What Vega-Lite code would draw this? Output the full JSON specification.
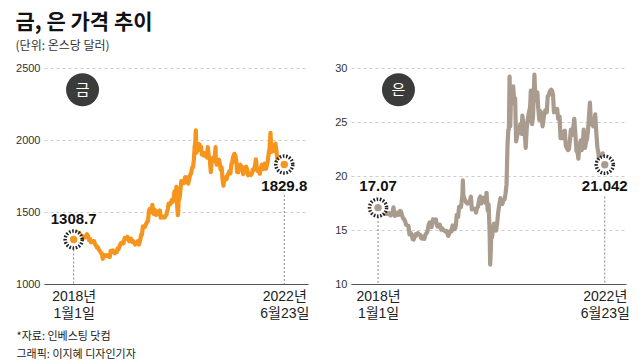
{
  "$schema": "https://vega.github.io/schema/vega-lite/v6.json",
  "padding": {"left": 15, "top": 12, "right": 0, "bottom": 0},
  "background": "white",
  "title": {
    "text": "금, 은 가격 추이",
    "subtitle": "(단위: 온스당 달러)",
    "anchor": "start",
    "font": "Noto Sans CJK KR",
    "fontSize": 21,
    "fontWeight": "bold",
    "color": "#111111",
    "subtitleFont": "Noto Sans CJK KR",
    "subtitleFontSize": 12,
    "subtitleColor": "#333333",
    "subtitlePadding": 8,
    "offset": 10
  },
  "spacing": 25,
  "config": {
    "view": {"stroke": null},
    "font": "Liberation Sans",
    "axisY": {"domain": false, "ticks": false, "labelPadding": 4, "labelFontSize": 11, "labelColor": "#333333", "gridColor": "#cccccc", "gridDash": [3, 3], "labelFont": "Liberation Sans", "format": "d"},
    "axisX": {"grid": false, "ticks": false, "domainColor": "#555555", "labelFontSize": 14, "labelColor": "#222222", "labelLineHeight": 17, "labelPadding": 5, "labelFont": "Liberation Sans Narrow, Liberation Sans, Noto Sans CJK KR", "labelOverlap": false, "labelFlush": false}
  },
  "datasets": {
    "prices": [
      {"d":"2018-01-01","g":1308.7,"s":17.07},
      {"d":"2018-01-08","g":1322,"s":17.18},
      {"d":"2018-01-15","g":1338,"s":17.05},
      {"d":"2018-01-22","g":1332,"s":17.22},
      {"d":"2018-01-25","g":1358,"s":17.5},
      {"d":"2018-02-01","g":1344,"s":17.24},
      {"d":"2018-02-08","g":1316,"s":16.53},
      {"d":"2018-02-15","g":1354,"s":16.73},
      {"d":"2018-02-22","g":1328,"s":16.53},
      {"d":"2018-03-01","g":1318,"s":16.48},
      {"d":"2018-03-08","g":1322,"s":16.53},
      {"d":"2018-03-15","g":1317,"s":16.47},
      {"d":"2018-03-22","g":1330,"s":16.55},
      {"d":"2018-04-01","g":1325,"s":16.35},
      {"d":"2018-04-08","g":1333,"s":16.48},
      {"d":"2018-04-15","g":1346,"s":16.63},
      {"d":"2018-04-22","g":1334,"s":17.10},
      {"d":"2018-05-01","g":1305,"s":16.30},
      {"d":"2018-05-08","g":1313,"s":16.54},
      {"d":"2018-05-15","g":1290,"s":16.40},
      {"d":"2018-05-22","g":1292,"s":16.60},
      {"d":"2018-06-01","g":1298,"s":16.42},
      {"d":"2018-06-08","g":1298,"s":16.77},
      {"d":"2018-06-15","g":1278,"s":16.73},
      {"d":"2018-06-22","g":1270,"s":16.40},
      {"d":"2018-07-01","g":1252,"s":16.05},
      {"d":"2018-07-08","g":1255,"s":16.02},
      {"d":"2018-07-15","g":1240,"s":15.80},
      {"d":"2018-07-22","g":1231,"s":15.50},
      {"d":"2018-08-01","g":1216,"s":15.40},
      {"d":"2018-08-08","g":1212,"s":15.38},
      {"d":"2018-08-15","g":1175,"s":14.60},
      {"d":"2018-08-22","g":1194,"s":14.75},
      {"d":"2018-09-01","g":1201,"s":14.55},
      {"d":"2018-09-08","g":1196,"s":14.15},
      {"d":"2018-09-15","g":1201,"s":14.12},
      {"d":"2018-09-22","g":1199,"s":14.38},
      {"d":"2018-10-01","g":1190,"s":14.62},
      {"d":"2018-10-08","g":1188,"s":14.52},
      {"d":"2018-10-15","g":1230,"s":14.70},
      {"d":"2018-10-22","g":1222,"s":14.60},
      {"d":"2018-11-01","g":1233,"s":14.55},
      {"d":"2018-11-08","g":1224,"s":14.25},
      {"d":"2018-11-15","g":1213,"s":14.20},
      {"d":"2018-11-22","g":1227,"s":14.37},
      {"d":"2018-12-01","g":1222,"s":14.18},
      {"d":"2018-12-08","g":1248,"s":14.55},
      {"d":"2018-12-15","g":1241,"s":14.70},
      {"d":"2018-12-22","g":1258,"s":14.80},
      {"d":"2019-01-01","g":1282,"s":15.50},
      {"d":"2019-01-08","g":1286,"s":15.71},
      {"d":"2019-01-15","g":1290,"s":15.62},
      {"d":"2019-01-22","g":1282,"s":15.26},
      {"d":"2019-02-01","g":1320,"s":16.00},
      {"d":"2019-02-08","g":1313,"s":15.78},
      {"d":"2019-02-15","g":1318,"s":15.80},
      {"d":"2019-02-22","g":1328,"s":15.98},
      {"d":"2019-03-01","g":1313,"s":15.44},
      {"d":"2019-03-08","g":1297,"s":15.30},
      {"d":"2019-03-15","g":1302,"s":15.30},
      {"d":"2019-03-22","g":1315,"s":15.50},
      {"d":"2019-04-01","g":1291,"s":15.03},
      {"d":"2019-04-08","g":1298,"s":15.17},
      {"d":"2019-04-15","g":1290,"s":15.00},
      {"d":"2019-04-22","g":1274,"s":14.97},
      {"d":"2019-05-01","g":1282,"s":14.85},
      {"d":"2019-05-08","g":1283,"s":14.92},
      {"d":"2019-05-15","g":1297,"s":14.70},
      {"d":"2019-05-22","g":1274,"s":14.45},
      {"d":"2019-06-01","g":1304,"s":14.76},
      {"d":"2019-06-08","g":1340,"s":14.95},
      {"d":"2019-06-15","g":1342,"s":14.88},
      {"d":"2019-06-22","g":1400,"s":15.42},
      {"d":"2019-07-01","g":1392,"s":15.25},
      {"d":"2019-07-08","g":1398,"s":15.08},
      {"d":"2019-07-15","g":1414,"s":15.35},
      {"d":"2019-07-22","g":1425,"s":16.40},
      {"d":"2019-08-01","g":1440,"s":16.20},
      {"d":"2019-08-08","g":1505,"s":17.15},
      {"d":"2019-08-15","g":1522,"s":17.10},
      {"d":"2019-08-22","g":1498,"s":17.12},
      {"d":"2019-09-01","g":1527,"s":18.30},
      {"d":"2019-09-04","g":1550,"s":19.60},
      {"d":"2019-09-08","g":1507,"s":18.20},
      {"d":"2019-09-15","g":1488,"s":17.90},
      {"d":"2019-09-22","g":1515,"s":17.75},
      {"d":"2019-10-01","g":1480,"s":17.50},
      {"d":"2019-10-08","g":1505,"s":17.45},
      {"d":"2019-10-15","g":1483,"s":17.55},
      {"d":"2019-10-22","g":1492,"s":17.50},
      {"d":"2019-11-01","g":1510,"s":18.10},
      {"d":"2019-11-08","g":1460,"s":16.90},
      {"d":"2019-11-15","g":1470,"s":16.95},
      {"d":"2019-11-22","g":1462,"s":16.95},
      {"d":"2019-12-01","g":1462,"s":16.95},
      {"d":"2019-12-08","g":1462,"s":16.62},
      {"d":"2019-12-15","g":1475,"s":17.05},
      {"d":"2019-12-22","g":1480,"s":17.15},
      {"d":"2020-01-01","g":1520,"s":17.90},
      {"d":"2020-01-08","g":1558,"s":18.10},
      {"d":"2020-01-15","g":1552,"s":17.45},
      {"d":"2020-01-22","g":1557,"s":17.95},
      {"d":"2020-02-01","g":1582,"s":17.97},
      {"d":"2020-02-08","g":1570,"s":17.72},
      {"d":"2020-02-15","g":1584,"s":17.50},
      {"d":"2020-02-22","g":1643,"s":18.45},
      {"d":"2020-03-01","g":1590,"s":16.82},
      {"d":"2020-03-08","g":1674,"s":17.38},
      {"d":"2020-03-12","g":1577,"s":15.90},
      {"d":"2020-03-15","g":1530,"s":14.80},
      {"d":"2020-03-19","g":1478,"s":11.80},
      {"d":"2020-03-22","g":1498,"s":12.60},
      {"d":"2020-03-27","g":1625,"s":14.50},
      {"d":"2020-04-01","g":1591,"s":14.30},
      {"d":"2020-04-08","g":1645,"s":15.10},
      {"d":"2020-04-15","g":1714,"s":15.60},
      {"d":"2020-04-22","g":1713,"s":15.30},
      {"d":"2020-05-01","g":1700,"s":14.95},
      {"d":"2020-05-08","g":1702,"s":15.55},
      {"d":"2020-05-15","g":1742,"s":16.55},
      {"d":"2020-05-22","g":1735,"s":17.20},
      {"d":"2020-06-01","g":1740,"s":17.95},
      {"d":"2020-06-08","g":1697,"s":17.58},
      {"d":"2020-06-15","g":1727,"s":17.40},
      {"d":"2020-06-22","g":1755,"s":17.78},
      {"d":"2020-07-01","g":1770,"s":17.82},
      {"d":"2020-07-08","g":1809,"s":18.40},
      {"d":"2020-07-15","g":1810,"s":19.20},
      {"d":"2020-07-22","g":1866,"s":22.85},
      {"d":"2020-07-28","g":1958,"s":24.30},
      {"d":"2020-08-01","g":1975,"s":24.30},
      {"d":"2020-08-06","g":2067,"s":29.20},
      {"d":"2020-08-11","g":1912,"s":24.60},
      {"d":"2020-08-15","g":1944,"s":26.75},
      {"d":"2020-08-19","g":1930,"s":27.20},
      {"d":"2020-08-22","g":1940,"s":26.70},
      {"d":"2020-08-28","g":1965,"s":27.50},
      {"d":"2020-09-01","g":1970,"s":28.30},
      {"d":"2020-09-08","g":1930,"s":26.90},
      {"d":"2020-09-15","g":1955,"s":27.20},
      {"d":"2020-09-22","g":1900,"s":23.20},
      {"d":"2020-10-01","g":1905,"s":23.80},
      {"d":"2020-10-08","g":1892,"s":24.10},
      {"d":"2020-10-15","g":1908,"s":24.20},
      {"d":"2020-10-22","g":1904,"s":24.80},
      {"d":"2020-11-01","g":1878,"s":23.90},
      {"d":"2020-11-06","g":1951,"s":25.60},
      {"d":"2020-11-15","g":1887,"s":24.70},
      {"d":"2020-11-22","g":1870,"s":24.20},
      {"d":"2020-11-30","g":1777,"s":22.60},
      {"d":"2020-12-08","g":1870,"s":24.50},
      {"d":"2020-12-15","g":1855,"s":25.20},
      {"d":"2020-12-22","g":1874,"s":25.80},
      {"d":"2021-01-01","g":1895,"s":26.40},
      {"d":"2021-01-06","g":1950,"s":27.90},
      {"d":"2021-01-08","g":1849,"s":25.30},
      {"d":"2021-01-15","g":1829,"s":24.80},
      {"d":"2021-01-22","g":1856,"s":25.55},
      {"d":"2021-02-01","g":1863,"s":29.40},
      {"d":"2021-02-08","g":1834,"s":27.00},
      {"d":"2021-02-15","g":1794,"s":27.35},
      {"d":"2021-02-22","g":1809,"s":27.75},
      {"d":"2021-03-01","g":1728,"s":26.20},
      {"d":"2021-03-08","g":1683,"s":25.20},
      {"d":"2021-03-15","g":1731,"s":26.00},
      {"d":"2021-03-22","g":1738,"s":25.70},
      {"d":"2021-04-01","g":1728,"s":24.60},
      {"d":"2021-04-08","g":1755,"s":25.30},
      {"d":"2021-04-15","g":1764,"s":25.90},
      {"d":"2021-04-22","g":1782,"s":26.10},
      {"d":"2021-05-01","g":1768,"s":25.90},
      {"d":"2021-05-08","g":1831,"s":27.40},
      {"d":"2021-05-15","g":1844,"s":27.45},
      {"d":"2021-05-22","g":1881,"s":27.80},
      {"d":"2021-06-01","g":1904,"s":28.00},
      {"d":"2021-06-08","g":1893,"s":27.90},
      {"d":"2021-06-15","g":1858,"s":27.50},
      {"d":"2021-06-22","g":1778,"s":25.90},
      {"d":"2021-07-01","g":1776,"s":26.00},
      {"d":"2021-07-08","g":1802,"s":26.00},
      {"d":"2021-07-15","g":1829,"s":26.20},
      {"d":"2021-07-22","g":1806,"s":25.30},
      {"d":"2021-08-01","g":1814,"s":25.50},
      {"d":"2021-08-08","g":1763,"s":23.50},
      {"d":"2021-08-15","g":1780,"s":23.70},
      {"d":"2021-08-22","g":1805,"s":23.50},
      {"d":"2021-09-01","g":1814,"s":24.10},
      {"d":"2021-09-08","g":1794,"s":24.20},
      {"d":"2021-09-15","g":1755,"s":22.80},
      {"d":"2021-09-22","g":1768,"s":22.60},
      {"d":"2021-10-01","g":1761,"s":22.40},
      {"d":"2021-10-08","g":1757,"s":22.50},
      {"d":"2021-10-15","g":1768,"s":23.30},
      {"d":"2021-10-22","g":1796,"s":24.30},
      {"d":"2021-11-01","g":1793,"s":23.80},
      {"d":"2021-11-08","g":1825,"s":24.50},
      {"d":"2021-11-15","g":1866,"s":25.30},
      {"d":"2021-11-22","g":1806,"s":24.10},
      {"d":"2021-12-01","g":1782,"s":22.30},
      {"d":"2021-12-08","g":1783,"s":22.30},
      {"d":"2021-12-15","g":1765,"s":21.60},
      {"d":"2021-12-22","g":1803,"s":22.80},
      {"d":"2022-01-01","g":1829,"s":23.30},
      {"d":"2022-01-08","g":1797,"s":22.40},
      {"d":"2022-01-15","g":1817,"s":22.90},
      {"d":"2022-01-22","g":1835,"s":24.30},
      {"d":"2022-02-01","g":1800,"s":22.60},
      {"d":"2022-02-08","g":1827,"s":23.20},
      {"d":"2022-02-15","g":1854,"s":23.40},
      {"d":"2022-02-22","g":1907,"s":24.20},
      {"d":"2022-03-01","g":1944,"s":25.50},
      {"d":"2022-03-08","g":2050,"s":26.80},
      {"d":"2022-03-15","g":1918,"s":24.80},
      {"d":"2022-03-22","g":1921,"s":25.30},
      {"d":"2022-04-01","g":1925,"s":24.60},
      {"d":"2022-04-08","g":1945,"s":24.80},
      {"d":"2022-04-15","g":1975,"s":25.70},
      {"d":"2022-04-22","g":1932,"s":24.20},
      {"d":"2022-05-01","g":1863,"s":22.60},
      {"d":"2022-05-08","g":1883,"s":22.20},
      {"d":"2022-05-15","g":1810,"s":21.10},
      {"d":"2022-05-22","g":1847,"s":21.70},
      {"d":"2022-06-01","g":1847,"s":21.80},
      {"d":"2022-06-08","g":1852,"s":22.10},
      {"d":"2022-06-15","g":1833,"s":21.60},
      {"d":"2022-06-23","g":1829.8,"s":21.042}
    ],
    "gpts": [
      {"d":"2018-01-01","v":1308.7,"t":"1308.7","p":"start","top":1240},
      {"d":"2022-06-23","v":1829.8,"t":"1829.8","p":"end","top":1618}
    ],
    "spts": [
      {"d":"2018-01-01","v":17.07,"t":"17.07","p":"start","top":16.2},
      {"d":"2022-06-23","v":21.042,"t":"21.042","p":"end","top":18.1}
    ],
    "gbadge": [{"d":"2018-03-11","v":2349,"t":"금"}],
    "sbadge": [{"d":"2018-05-28","v":27.99,"t":"은"}]
  },
  "hconcat": [
    {
      "width": 264,
      "height": 216,
      "layer": [
        {
          "data": {"name": "gpts"},
          "mark": {"type": "rule", "color": "#888888", "strokeDash": [2, 2], "strokeWidth": 1},
          "encoding": {
            "x": {"field": "d", "type": "temporal"},
            "y": {"field": "top", "type": "quantitative", "scale": {"domain": [1000, 2500], "zero": false}},
            "y2": {"datum": 1000}
          }
        },
        {
          "data": {"name": "prices"},
          "mark": {"type": "line", "color": "#F7941D", "strokeWidth": 4.2, "strokeJoin": "round"},
          "encoding": {
            "x": {"field": "d", "type": "temporal",
              "scale": {"domain": [{"year": 2017, "month": 5, "date": 16, "utc": true}, {"year": 2022, "month": 12, "date": 24, "utc": true}]},
              "axis": {
                "values": [{"year": 2018, "month": 1, "date": 1, "utc": true}, {"year": 2022, "month": 6, "date": 23, "utc": true}],
                "labelExpr": "utcyear(datum.value) == 2018 ? ['2018년', '1월1일'] : ['2022년', '6월23일']",
                "title": ["*자료: 인베스팅 닷컴", "그래픽: 이지혜 디자인기자"],
                "titleX": -28,
                "titleY": 46,
                "titleAlign": "left",
                "titleAnchor": "start",
                "titleBaseline": "top",
                "titleFont": "Noto Sans CJK KR",
                "titleFontSize": 11,
                "titleFontWeight": "normal",
                "titleColor": "#222222",
                "titleLineHeight": 18
              }
            },
            "y": {"field": "g", "type": "quantitative",
              "scale": {"domain": [1000, 2500], "zero": false},
              "axis": {"values": [1000, 1500, 2000, 2500], "title": null}
            }
          }
        },
        {
          "data": {"name": "gpts"},
          "mark": {"type": "point", "shape": "circle", "filled": true, "fill": "white", "fillOpacity": 1, "stroke": "#222222", "strokeWidth": 3.5, "strokeDash": [1.6, 1.6], "size": 290, "opacity": 1},
          "encoding": {
            "x": {"field": "d", "type": "temporal"},
            "y": {"field": "v", "type": "quantitative", "scale": {"domain": [1000, 2500], "zero": false}}
          }
        },
        {
          "data": {"name": "gpts"},
          "mark": {"type": "point", "shape": "circle", "filled": true, "color": "#F7941D", "size": 55, "opacity": 1},
          "encoding": {
            "x": {"field": "d", "type": "temporal"},
            "y": {"field": "v", "type": "quantitative", "scale": {"domain": [1000, 2500], "zero": false}}
          }
        },
        {
          "data": {"name": "gpts"},
          "transform": [{"filter": "datum.p == 'start'"}],
          "mark": {"type": "text", "dy": -21, "fontSize": 15, "fontWeight": "bold", "color": "#111111", "font": "Liberation Sans Narrow, Liberation Sans"},
          "encoding": {
            "x": {"field": "d", "type": "temporal"},
            "y": {"field": "v", "type": "quantitative", "scale": {"domain": [1000, 2500], "zero": false}},
            "text": {"field": "t"}
          }
        },
        {
          "data": {"name": "gpts"},
          "transform": [{"filter": "datum.p == 'end'"}],
          "mark": {"type": "text", "dy": 21, "fontSize": 15, "fontWeight": "bold", "color": "#111111", "font": "Liberation Sans Narrow, Liberation Sans"},
          "encoding": {
            "x": {"field": "d", "type": "temporal"},
            "y": {"field": "v", "type": "quantitative", "scale": {"domain": [1000, 2500], "zero": false}},
            "text": {"field": "t"}
          }
        },
        {
          "data": {"name": "gbadge"},
          "mark": {"type": "point", "shape": "circle", "filled": true, "color": "#3b3b3b", "size": 1089, "opacity": 1},
          "encoding": {
            "x": {"field": "d", "type": "temporal"},
            "y": {"field": "v", "type": "quantitative", "scale": {"domain": [1000, 2500], "zero": false}}
          }
        },
        {
          "data": {"name": "gbadge"},
          "mark": {"type": "text", "color": "white", "fontSize": 15, "font": "Noto Sans CJK KR", "baseline": "middle"},
          "encoding": {
            "x": {"field": "d", "type": "temporal"},
            "y": {"field": "v", "type": "quantitative", "scale": {"domain": [1000, 2500], "zero": false}},
            "text": {"field": "t"}
          }
        }
      ]
    },
    {
      "width": 275,
      "height": 216,
      "layer": [
        {
          "data": {"name": "spts"},
          "mark": {"type": "rule", "color": "#888888", "strokeDash": [2, 2], "strokeWidth": 1},
          "encoding": {
            "x": {"field": "d", "type": "temporal"},
            "y": {"field": "top", "type": "quantitative", "scale": {"domain": [10, 30], "zero": false}},
            "y2": {"datum": 10}
          }
        },
        {
          "data": {"name": "prices"},
          "mark": {"type": "line", "color": "#A99C8F", "strokeWidth": 4.2, "strokeJoin": "round"},
          "encoding": {
            "x": {"field": "d", "type": "temporal",
              "scale": {"domain": [{"year": 2017, "month": 6, "date": 20, "utc": true}, {"year": 2022, "month": 11, "date": 23, "utc": true}]},
              "axis": {
                "values": [{"year": 2018, "month": 1, "date": 1, "utc": true}, {"year": 2022, "month": 6, "date": 23, "utc": true}],
                "labelExpr": "utcyear(datum.value) == 2018 ? ['2018년', '1월1일'] : ['2022년', '6월23일']",
                "title": null
              }
            },
            "y": {"field": "s", "type": "quantitative",
              "scale": {"domain": [10, 30], "zero": false},
              "axis": {"values": [10, 15, 20, 25, 30], "title": null}
            }
          }
        },
        {
          "data": {"name": "spts"},
          "mark": {"type": "point", "shape": "circle", "filled": true, "fill": "white", "fillOpacity": 1, "stroke": "#222222", "strokeWidth": 3.5, "strokeDash": [1.6, 1.6], "size": 290, "opacity": 1},
          "encoding": {
            "x": {"field": "d", "type": "temporal"},
            "y": {"field": "v", "type": "quantitative", "scale": {"domain": [10, 30], "zero": false}}
          }
        },
        {
          "data": {"name": "spts"},
          "mark": {"type": "point", "shape": "circle", "filled": true, "color": "#A99C8F", "size": 55, "opacity": 1},
          "encoding": {
            "x": {"field": "d", "type": "temporal"},
            "y": {"field": "v", "type": "quantitative", "scale": {"domain": [10, 30], "zero": false}}
          }
        },
        {
          "data": {"name": "spts"},
          "transform": [{"filter": "datum.p == 'start'"}],
          "mark": {"type": "text", "dy": -22, "fontSize": 15, "fontWeight": "bold", "color": "#111111", "font": "Liberation Sans Narrow, Liberation Sans"},
          "encoding": {
            "x": {"field": "d", "type": "temporal"},
            "y": {"field": "v", "type": "quantitative", "scale": {"domain": [10, 30], "zero": false}},
            "text": {"field": "t"}
          }
        },
        {
          "data": {"name": "spts"},
          "transform": [{"filter": "datum.p == 'end'"}],
          "mark": {"type": "text", "dy": 21, "fontSize": 15, "fontWeight": "bold", "color": "#111111", "font": "Liberation Sans Narrow, Liberation Sans"},
          "encoding": {
            "x": {"field": "d", "type": "temporal"},
            "y": {"field": "v", "type": "quantitative", "scale": {"domain": [10, 30], "zero": false}},
            "text": {"field": "t"}
          }
        },
        {
          "data": {"name": "sbadge"},
          "mark": {"type": "point", "shape": "circle", "filled": true, "color": "#3b3b3b", "size": 1089, "opacity": 1},
          "encoding": {
            "x": {"field": "d", "type": "temporal"},
            "y": {"field": "v", "type": "quantitative", "scale": {"domain": [10, 30], "zero": false}}
          }
        },
        {
          "data": {"name": "sbadge"},
          "mark": {"type": "text", "color": "white", "fontSize": 15, "font": "Noto Sans CJK KR", "baseline": "middle"},
          "encoding": {
            "x": {"field": "d", "type": "temporal"},
            "y": {"field": "v", "type": "quantitative", "scale": {"domain": [10, 30], "zero": false}},
            "text": {"field": "t"}
          }
        }
      ]
    }
  ]
}
